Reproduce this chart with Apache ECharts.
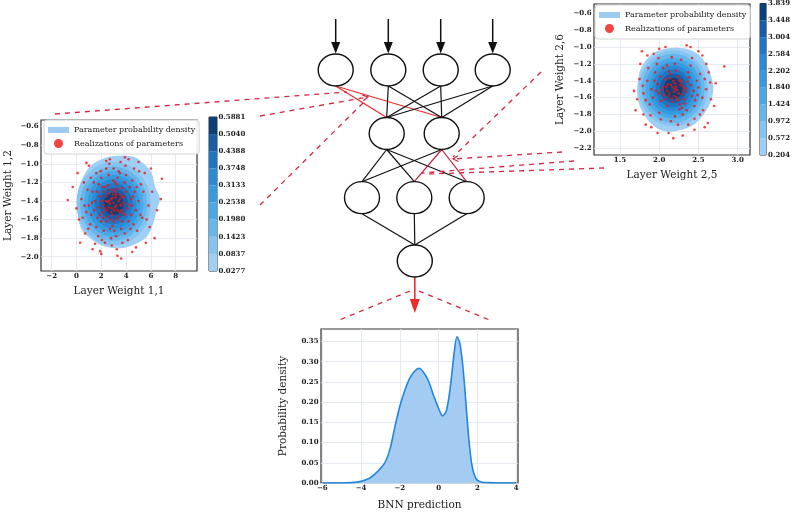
<!DOCTYPE html>
<html><head><meta charset="utf-8">
<script src="https://cdn.jsdelivr.net/npm/echarts@6/dist/echarts.min.js"></script>
<style>html,body{margin:0;padding:0;background:#fff}#c{width:793px;height:513px}</style>
</head><body><div id="c"></div>
<script>
// ---------- tick labels ----------
const leftXTicks=[-2,0,2,4,6,8];
const leftYTicks=[-0.6,-0.8,-1.0,-1.2,-1.4,-1.6,-1.8,-2.0];
const rightXTicks=[1.5,2.0,2.5,3.0];
const rightYTicks=[-0.6,-0.8,-1.0,-1.2,-1.4,-1.6,-1.8,-2.0,-2.2];
const predXTicks=[-6,-4,-2,0,2,4];
const predYTicks=[0,0.05,0.10,0.15,0.20,0.25,0.30,0.35];
const leftLevels=[0.0277,0.0837,0.1423,0.1980,0.2538,0.3133,0.3748,0.4388,0.5040,0.5881];
const rightLevels=[0.204,0.572,0.972,1.424,1.840,2.202,2.584,3.004,3.448,3.839];
const bandColors=['#9fcff4','#84c4f0','#66b6ec','#4aa8e6','#369ae0','#2a8ad6','#1f76c4','#175ea6','#0b3f78'];

// ---------- density contours (outer contour vertices + inner level extents) ----------
const leftOuter=[[1.9,-0.96],[2.97,-0.916],[4.58,-0.923],[5.39,-0.994],[6.06,-1.10],[6.33,-1.246],[6.73,-1.371],[6.47,-1.497],[6.19,-1.64],[5.66,-1.785],[4.58,-1.874],[3.51,-1.91],[2.16,-1.885],[1.09,-1.80],[0.42,-1.71],[0.15,-1.57],[0.06,-1.425],[0.15,-1.28],[0.55,-1.14],[1.09,-1.03]];
const leftCenter=[3.0,-1.43];
const leftRadii=[[3.0,0.45],[2.7,0.40],[2.4,0.355],[2.1,0.31],[1.8,0.265],[1.5,0.22],[1.15,0.17],[0.8,0.12]];
const rightOuter=[[1.925,-1.074],[2.116,-1.015],[2.307,-1.015],[2.478,-1.074],[2.606,-1.213],[2.67,-1.37],[2.69,-1.509],[2.648,-1.666],[2.56,-1.805],[2.435,-1.923],[2.265,-1.983],[2.096,-2.003],[1.946,-1.944],[1.84,-1.844],[1.755,-1.706],[1.72,-1.548],[1.733,-1.39],[1.777,-1.233]];
const rightCenter=[2.18,-1.49];
const rightRadii=[[0.44,0.45],[0.40,0.41],[0.355,0.36],[0.31,0.315],[0.265,0.27],[0.22,0.225],[0.17,0.175],[0.12,0.125]];

// ---------- realizations of parameters ----------
const leftPoints=[[3.0,-1.42],[2.8,-1.38],[3.2,-1.45],[3.4,-1.40],[2.6,-1.47],[3.1,-1.30],[2.9,-1.55],[3.6,-1.50],[2.4,-1.35],[3.3,-1.60],[2.7,-1.28],[3.5,-1.33],[2.2,-1.44],[3.8,-1.42],[3.0,-1.62],[2.5,-1.57],[3.7,-1.26],[2.1,-1.52],[3.9,-1.55],[2.3,-1.25],[3.15,-1.36],[2.85,-1.48],[3.45,-1.52],[2.65,-1.40],[3.25,-1.22],[2.95,-1.33],[3.55,-1.44],[2.45,-1.50],[3.05,-1.50],[2.75,-1.60],
[3.1,-1.47],[2.9,-1.37],[3.3,-1.50],[2.7,-1.43],[3.5,-1.38],[2.5,-1.41],[3.2,-1.33],[2.8,-1.52],[3.0,-1.28],[3.4,-1.57],[2.6,-1.32],[3.6,-1.45],[2.3,-1.48],[3.8,-1.35],[2.0,-1.40],[4.0,-1.30],[2.9,-1.67],[3.1,-1.20],[2.4,-1.62],[3.7,-1.62],[1.8,-1.47],[4.2,-1.44],[2.2,-1.30],[3.9,-1.20],[2.7,-1.70],[3.3,-1.15],[1.9,-1.55],[4.5,-1.45],[2.1,-1.25],[3.6,-1.70],
[2.55,-1.23],[3.35,-1.27],[2.15,-1.58],[3.75,-1.53],[2.95,-1.18],[3.05,-1.72],[2.35,-1.40],[3.65,-1.36],[1.65,-1.30],[4.35,-1.70],[1.45,-1.50],[4.55,-1.35],[2.05,-1.82],[3.95,-1.02],[2.85,-1.88],[3.25,-1.92],[1.25,-1.42],[4.85,-1.25],[1.75,-1.78],[4.15,-1.82],[0.95,-1.70],[5.15,-1.55],[1.15,-1.15],[5.05,-1.08],[2.65,-1.00],[3.55,-0.98],[0.65,-1.45],[5.65,-1.60],[1.95,-1.08],[4.65,-1.05],
[1.5,-1.40],[4.4,-1.38],[1.8,-1.22],[4.2,-1.62],[1.2,-1.55],[4.7,-1.30],[1.6,-1.68],[4.5,-1.18],[2.0,-1.15],[4.0,-1.12],[1.3,-1.30],[4.8,-1.50],[2.2,-1.72],[3.9,-1.75],[1.0,-1.45],[5.0,-1.40],[2.6,-1.12],[3.5,-1.10],[1.7,-1.58],[4.3,-1.25],[2.0,-1.62],[4.1,-1.48],[1.4,-1.20],[4.6,-1.65],[3.2,-1.78],[2.8,-1.80],[3.4,-1.08],[2.4,-1.05],[1.9,-1.35],[4.4,-1.55],[1.1,-1.65],[5.2,-1.22],[0.9,-1.28],[5.3,-1.58],[2.3,-1.85],[3.7,-1.85],[3.0,-1.05],[1.6,-1.10],[4.9,-1.72],[0.8,-1.52],
[0.4,-1.38],[5.8,-1.45],[0.2,-1.60],[6.1,-1.30],[0.6,-1.20],[5.9,-1.68],[0.7,-1.75],[5.5,-1.10],[1.3,-1.92],[4.8,-1.90],[1.0,-1.02],[5.0,-0.98],[2.0,-1.97],[3.3,-1.99],[2.7,-0.95],[3.9,-0.93],[-0.3,-1.25],[6.5,-1.50],[6.8,-1.38],[-0.7,-1.39],[6.9,-1.16],[0.8,-0.99],[4.5,-1.95],[1.9,-1.94],[0.0,-1.48],[6.3,-1.80],[0.3,-1.85],[5.6,-1.85],[3.6,-2.02],[2.4,-0.97],[6.0,-1.05],[0.1,-1.10],[4.2,-0.95],[1.5,-1.86],[5.4,-1.30],[0.5,-1.58]];
const rightPoints=[[2.20,-1.50],[2.15,-1.45],[2.25,-1.55],[2.10,-1.52],[2.30,-1.47],[2.18,-1.40],[2.22,-1.60],[2.05,-1.48],[2.35,-1.53],[2.12,-1.58],[2.28,-1.42],[2.00,-1.55],[2.40,-1.45],[2.17,-1.65],[2.24,-1.35],[2.08,-1.38],[2.32,-1.62],[1.98,-1.44],[2.42,-1.58],[2.14,-1.32],[2.26,-1.68],[2.02,-1.64],[2.38,-1.36],[2.19,-1.53],[2.21,-1.47],[2.11,-1.44],[2.29,-1.56],[2.16,-1.61],[2.27,-1.39],[2.06,-1.57],
[2.23,-1.51],[2.17,-1.48],[2.13,-1.55],[2.27,-1.45],[2.09,-1.47],[2.31,-1.51],[2.20,-1.43],[2.24,-1.63],[2.03,-1.51],[2.36,-1.41],[2.14,-1.37],[2.33,-1.67],[1.96,-1.52],[2.44,-1.52],[2.22,-1.28],[2.10,-1.70],[2.37,-1.30],[2.01,-1.35],[2.46,-1.63],[2.26,-1.74],
[2.19,-1.58],[2.25,-1.40],[2.07,-1.62],[2.34,-1.49],[2.12,-1.29],[2.29,-1.72],[1.94,-1.40],[2.49,-1.57],[2.02,-1.86],[2.42,-1.13],[1.83,-1.63],[2.58,-1.38],[2.16,-1.12],[2.24,-1.92],[1.89,-1.81],[2.52,-1.80],[1.99,-1.13],[2.37,-1.92],[1.79,-1.46],[2.63,-1.30],
[1.90,-1.50],[2.50,-1.48],[1.95,-1.30],[2.45,-1.70],[1.88,-1.68],[2.52,-1.32],[2.10,-1.22],[2.30,-1.80],[2.00,-1.78],[2.40,-1.22],[1.85,-1.40],[2.55,-1.60],[2.20,-1.20],[2.20,-1.82],[1.92,-1.60],[2.48,-1.40],[2.05,-1.25],[2.35,-1.75],[1.97,-1.20],[2.45,-1.85],[2.60,-1.50],[1.80,-1.55],[2.15,-1.88],[2.28,-1.15],[1.86,-1.25],[2.56,-1.75],
[1.75,-1.38],[2.65,-1.42],[1.72,-1.62],[2.66,-1.62],[1.80,-1.80],[2.60,-1.20],[1.85,-1.10],[2.50,-1.05],[2.00,-1.02],[2.35,-0.98],[1.90,-1.95],[2.45,-1.98],[2.12,-2.02],[2.30,-2.05],[1.78,-1.05],[2.83,-1.23],[2.72,-1.43],[1.68,-1.52],[2.62,-1.90],[1.83,-1.92],[2.18,-2.08],[1.98,-2.02],[2.55,-1.10],[1.76,-1.20],[2.40,-1.00],[2.70,-1.70],[1.70,-1.75],[2.08,-1.00],[2.58,-1.95],[1.93,-1.08]];

// ---------- BNN prediction density ----------
const predX=[-6,-5,-4.5,-4,-3.75,-3.5,-3.25,-3,-2.75,-2.5,-2.25,-2,-1.75,-1.5,-1.25,-1,-0.75,-0.5,-0.25,0,0.2,0.4,0.6,0.8,0.95,1.1,1.25,1.4,1.55,1.7,1.85,2,2.25,2.5,3,4];
const predY=[0,0,0.001,0.004,0.008,0.014,0.024,0.036,0.052,0.085,0.14,0.19,0.228,0.258,0.276,0.284,0.272,0.25,0.215,0.185,0.166,0.178,0.235,0.32,0.362,0.345,0.29,0.205,0.115,0.05,0.02,0.007,0.002,0.001,0,0];

const SERIF='DejaVu Serif';
const fmt=(v,d)=>Number(v).toFixed(d).replace('-','\u2212');
function valAxis(o){
  return {type:'value',gridIndex:o.g,min:o.min,max:o.max,position:o.pos,
    axisLine:{show:false},
    axisTick:{show:false,customValues:o.ticks},
    axisLabel:{customValues:o.ticks,formatter:v=>fmt(v,o.dec),fontFamily:SERIF,fontWeight:'bold',fontSize:7,color:'#222',margin:o.margin},
    splitLine:{show:true,lineStyle:{color:'#dde5ec',width:0.8}},
    name:o.name,nameLocation:'middle',nameGap:o.gap,
    nameTextStyle:{fontFamily:SERIF,fontSize:10.5,color:'#222'}};
}
function contourRender(outer,center,radii){
  return function(params,api){
    const k=params.dataIndex;let pts=[];
    if(k===0){pts=outer.map(p=>api.coord(p));}
    else{const r=radii[k-1];for(let i=0;i<60;i++){const t=i/60*2*Math.PI;pts.push(api.coord([center[0]+r[0]*Math.cos(t),center[1]+r[1]*Math.sin(t)]));}}
    return {type:'polygon',shape:{points:pts,smooth:k===0?0.35:0},style:{fill:bandColors[k]}};
  };
}
function barRender(params,api){
  const k=params.dataIndex;const a=api.coord([0,k]);const b=api.coord([1,k+1]);
  return {type:'rect',shape:{x:a[0],y:b[1],width:b[0]-a[0],height:a[1]-b[1]},style:{fill:bandColors[k]}};
}
const levelsIdx=bandColors.map((c,i)=>[i]);
const gridStyle={show:true,borderColor:'#333',borderWidth:1.2,backgroundColor:'#fff'};

// ---------- network diagram (schematic) ----------
const RX=17.5,RY=16;
const L0=[[335.7,70],[388.3,70],[440.7,70],[492.7,70]];
const L1=[[386.7,133.5],[441.7,133.5]];
const L2=[[362,197.7],[414.3,197.7],[466.7,197.7]];
const L3=[[414.8,261]];
const RED='#ee2a2a',RED2='#c81e3c',DASH='#d8243f';
const G=[];
function ln(x1,y1,x2,y2,c,w,dash){G.push({type:'line',z:5,shape:{x1,y1,x2,y2},style:{stroke:c,lineWidth:w,lineDash:dash||null}});}
function connect(A,B,redSet,rc){A.forEach((a,i)=>B.forEach((b,j)=>{const red=redSet.some(p=>p[0]===i&&p[1]===j);ln(a[0],a[1]+RY,b[0],b[1]-RY,red?rc:'#111',1.2);}));}
connect(L0,L1,[[0,0],[0,1]],RED);
connect(L1,L2,[[1,1],[1,2]],RED2);
connect(L2,L3,[],RED);
[L0,L1,L2,L3].forEach(L=>L.forEach(p=>G.push({type:'circle',z:6,x:p[0],y:p[1],scaleX:RX/RY,shape:{cx:0,cy:0,r:RY},style:{fill:'#fff',stroke:'#111',lineWidth:1.3,strokeNoScale:true}})));
L0.forEach(p=>{ln(p[0],19,p[0],45,'#111',1.5);G.push({type:'polygon',z:6,shape:{points:[[p[0]-4.5,42],[p[0]+4.5,42],[p[0],53.5]]},style:{fill:'#111'}});});
ln(414.8,277,414.8,302,RED,1.6);
G.push({type:'polygon',z:6,shape:{points:[[409.8,299],[419.8,299],[414.8,313]]},style:{fill:RED}});
const D=[5,5];
ln(55,114,347,92,DASH,1.3,D);
ln(260,116,368,97,DASH,1.3,D);
ln(260,205,366,100,DASH,1.3,D);
ln(541,72,453,157,DASH,1.3,D);
ln(562,152,453,159,DASH,1.3,D);
ln(574,161,422,173,DASH,1.3,D);
ln(604,168,428,174,DASH,1.3,D);
ln(410,291,337,321,DASH,1.3,D);
ln(419,291,492,321,DASH,1.3,D);
function head(tx,ty,fx,fy){const a=Math.atan2(fy-ty,fx-tx);const s=6;
  G.push({type:'polyline',z:5,shape:{points:[[tx+s*Math.cos(a+0.5),ty+s*Math.sin(a+0.5)],[tx,ty],[tx+s*Math.cos(a-0.5),ty+s*Math.sin(a-0.5)]]},style:{stroke:DASH,lineWidth:1.2,fill:null}});}
head(368,97,260,116);
head(453,159,562,152);

const legendBase={orient:'vertical',padding:[6,4,6,4],itemGap:5,itemWidth:21,itemHeight:9,selectedMode:false,
  backgroundColor:'rgba(255,255,255,0.9)',borderColor:'#d4d4d4',borderWidth:1,borderRadius:3,
  textStyle:{fontFamily:SERIF,fontSize:8,color:'#222'},
  data:[{name:'Parameter probability density',icon:'path://M0,0L21,0L21,6L0,6Z',itemStyle:{color:'#9ccaf2'}},
        {name:'Realizations of parameters',icon:'circle',itemStyle:{color:'#f01414'}}]};

const option={
  animation:false,
  grid:[
    Object.assign({left:41,top:120,width:156,height:151},gridStyle),
    Object.assign({left:594,top:4,width:156,height:151},gridStyle),
    Object.assign({left:321,top:329,width:197,height:154},gridStyle),
    Object.assign({left:209,top:117,width:8,height:154},gridStyle,{borderWidth:1}),
    Object.assign({left:760,top:2,width:8,height:153},gridStyle,{borderWidth:1})
  ],
  xAxis:[
    valAxis({g:0,min:-2.86,max:9.72,ticks:leftXTicks,dec:0,margin:1.5,name:'Layer Weight 1,1',gap:15}),
    valAxis({g:1,min:1.17,max:3.157,ticks:rightXTicks,dec:1,margin:1.5,name:'Layer Weight 2,5',gap:14.5}),
    valAxis({g:2,min:-6.07,max:4.10,ticks:predXTicks,dec:0,margin:1.5,name:'BNN prediction',gap:16.5}),
    {type:'value',gridIndex:3,min:0,max:1,show:false},
    {type:'value',gridIndex:4,min:0,max:1,show:false}
  ],
  yAxis:[
    valAxis({g:0,min:-2.154,max:-0.528,ticks:leftYTicks,dec:1,margin:2.5,name:'Layer Weight 1,2',gap:27.5}),
    valAxis({g:1,min:-2.28,max:-0.49,ticks:rightYTicks,dec:1,margin:2.5,name:'Layer Weight 2,6',gap:28}),
    valAxis({g:2,min:0,max:0.381,ticks:predYTicks,dec:2,margin:2.5,name:'Probability density',gap:32.5}),
    {type:'value',gridIndex:3,min:0,max:9,interval:1,position:'right',axisLine:{show:false},axisTick:{show:false},splitLine:{show:false},
      axisLabel:{formatter:v=>leftLevels[Math.round(v)].toFixed(4),fontFamily:SERIF,fontWeight:'bold',fontSize:7,color:'#222',margin:1.5}},
    {type:'value',gridIndex:4,min:0,max:9,interval:1,position:'right',axisLine:{show:false},axisTick:{show:false},splitLine:{show:false},
      axisLabel:{formatter:v=>rightLevels[Math.round(v)].toFixed(3),fontFamily:SERIF,fontWeight:'bold',fontSize:7,color:'#222',margin:2}}
  ],
  legend:[Object.assign({left:44,top:120},legendBase),Object.assign({left:595,top:5},legendBase)],
  series:[
    {name:'Parameter probability density',type:'custom',xAxisIndex:0,yAxisIndex:0,clip:true,data:levelsIdx,renderItem:contourRender(leftOuter,leftCenter,leftRadii),itemStyle:{color:'#9ccaf2'},z:2},
    {name:'Realizations of parameters',type:'scatter',xAxisIndex:0,yAxisIndex:0,data:leftPoints,symbolSize:2.6,itemStyle:{color:'#f01414'},z:3},
    {name:'Parameter probability density',type:'custom',xAxisIndex:1,yAxisIndex:1,clip:true,data:levelsIdx,renderItem:contourRender(rightOuter,rightCenter,rightRadii),itemStyle:{color:'#9ccaf2'},z:2},
    {name:'Realizations of parameters',type:'scatter',xAxisIndex:1,yAxisIndex:1,data:rightPoints,symbolSize:2.6,itemStyle:{color:'#f01414'},z:3},
    {name:'BNN',type:'line',xAxisIndex:2,yAxisIndex:2,data:predX.map((x,i)=>[x,predY[i]]),smooth:0.3,symbol:'none',
      lineStyle:{color:'#2186e0',width:1.6},areaStyle:{color:'#a4ccf3',opacity:1},z:2},
    {type:'custom',xAxisIndex:3,yAxisIndex:3,data:levelsIdx,renderItem:barRender,z:2},
    {type:'custom',xAxisIndex:4,yAxisIndex:4,data:levelsIdx,renderItem:barRender,z:2}
  ],
  graphic:G
};
const chart=echarts.init(document.getElementById('c'),null,{renderer:'canvas'});
chart.setOption(option);
</script></body></html>
